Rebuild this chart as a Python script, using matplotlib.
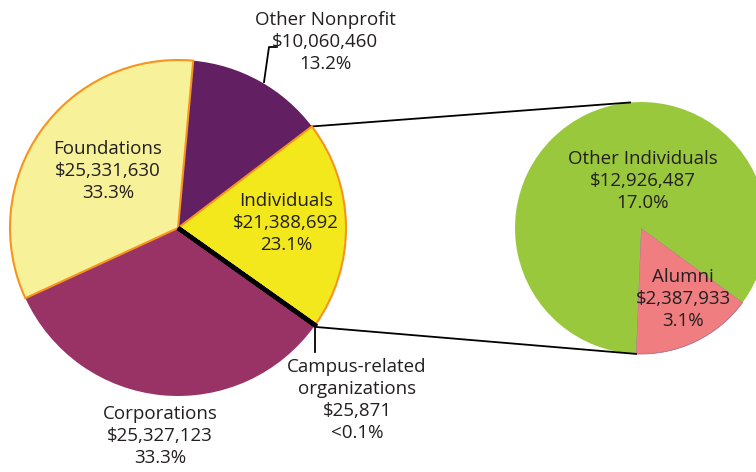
import numpy as np
import matplotlib
matplotlib.use("Agg")
import matplotlib.pyplot as plt

# Main pie (counterclockwise from the Individuals slice)
main_names = ["Individuals", "Other Nonprofit", "Foundations", "Corporations", "Campus-related\norganizations"]
main_amounts = ["$21,388,692", "$10,060,460", "$25,331,630", "$25,327,123", "$25,871"]
main_pcts = ["23.1%", "13.2%", "33.3%", "33.3%", "<0.1%"]
# Individuals slice drawn as the sum of the breakdown pie
sub_names = ["Alumni", "Other Individuals"]
sub_amounts = ["$2,387,933", "$12,926,487"]
sub_pcts = ["3.1%", "17.0%"]
sub_values = [2387933, 12926487]
main_values = [sum(sub_values), 10060460, 25331630, 25327123, 25871]

main_colors = ["#F2E81C", "#621F61", "#F7F199", "#993366", "#000000"]
sub_colors = ["#F07E80", "#9AC83D"]
ORANGE = "#F7941D"

plt.rcParams['font.family'] = ['Open Sans', 'DejaVu Sans']

W, H = 756, 472
fig = plt.figure(figsize=(W / 100, H / 100), dpi=100)
ax = fig.add_axes([0, 0, 1, 1])

c1 = (178, H - 228)
r1 = 168
wedges, _ = ax.pie(main_values, colors=main_colors, center=c1, radius=r1,
                   startangle=-35.3, counterclock=True, frame=True)
for w in wedges:
    w.set_linewidth(0)
for i in (0, 2):
    wedges[i].set_edgecolor(ORANGE)
    wedges[i].set_linewidth(1.5)
    wedges[i].set_zorder(3)
wedges[4].set_edgecolor("black")
wedges[4].set_linewidth(3.2)
wedges[4].set_zorder(4)

c2 = (641, H - 228)
r2 = 126
swedges, _ = ax.pie(sub_values, colors=sub_colors, center=c2, radius=r2,
                    startangle=-92.3, counterclock=True, frame=True)
for w in swedges:
    w.set_linewidth(0)
swedges[0].set_edgecolor("#A07090")
swedges[0].set_linewidth(0.6)
ax.set_xlim(0, W)
ax.set_ylim(0, H)
ax.set_aspect("equal")
ax.axis("off")


def pt(c, r, ang):
    a = np.deg2rad(ang)
    return c[0] + r * np.cos(a), c[1] + r * np.sin(a)


# connector lines between the pies
p_top = pt(c1, r1, wedges[0].theta2)
p_bot = pt(c1, r1, wedges[0].theta1)
q_top = pt(c2, r2, 95)
q_bot = pt(c2, r2, swedges[0].theta1)
ax.plot([p_top[0], q_top[0]], [p_top[1], q_top[1]], color="black", lw=1.3, zorder=1)
ax.plot([p_bot[0] + 2, q_bot[0]], [p_bot[1] - 2, q_bot[1]], color="black", lw=1.3, zorder=1)

# leader lines
ax.plot([315, 315], [H - 328, H - 352], color="black", lw=1.3)
ax.plot([264, 269, 276], [H - 82, H - 47, H - 47], color="black", lw=1.3)

fs = 13.5
tc = "#231F20"


def label(x, y, lines):
    ax.text(x, H - y, "\n".join(lines), ha="center", va="center", fontsize=fs,
            color=tc, linespacing=1.3, zorder=6)


label(286, 223, [main_names[0], main_amounts[0], main_pcts[0]])
label(325, 42, [main_names[1], main_amounts[1], main_pcts[1]])
label(108, 171, [main_names[2], main_amounts[2], main_pcts[2]])
label(160, 436, [main_names[3], main_amounts[3], main_pcts[3]])
label(357, 400, [main_names[4], main_amounts[4], main_pcts[4]])
label(683, 299, [sub_names[0], sub_amounts[0], sub_pcts[0]])
label(643, 181, [sub_names[1], sub_amounts[1], sub_pcts[1]])

fig.savefig("out.png", dpi=100)
